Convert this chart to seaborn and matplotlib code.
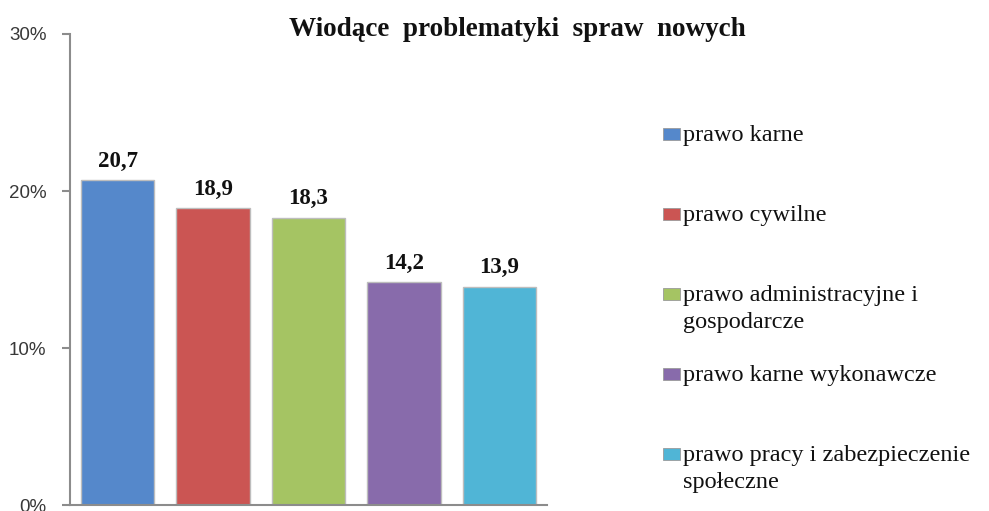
import matplotlib
matplotlib.use("Agg")
import matplotlib.pyplot as plt
import seaborn as sns
import pandas as pd
from matplotlib.patches import Rectangle

categories = ["prawo karne", "prawo cywilne", "prawo administracyjne i\ngospodarcze",
              "prawo karne wykonawcze", "prawo pracy i zabezpieczenie\nspołeczne"]
values = [20.7, 18.9, 18.3, 14.2, 13.9]
value_labels = ["20,7", "18,9", "18,3", "14,2", "13,9"]
colors = ["#5588CB", "#CB5553", "#A5C463", "#886BAB", "#50B5D6"]
yticks = [0, 10, 20, 30]
ytick_labels = ["0%", "10%", "20%", "30%"]
title = "Wiodące  problematyki  spraw  nowych"

sns.set_theme(style="white")
plt.rcParams["font.family"] = ["Liberation Serif", "DejaVu Serif"]

df = pd.DataFrame({"cat": categories, "val": values})

fig = plt.figure(figsize=(9.89, 5.11), dpi=100)
ax = fig.add_axes([70/989, 1-505/511, (547-70)/989, (505-34)/511])

sns.barplot(data=df, x="cat", y="val", hue="cat", palette=colors, legend=False,
            width=0.77, ax=ax, edgecolor="#BDBDBD", linewidth=1.0, saturation=1)

ax.set_ylim(0, 30)
ax.set_xlim(-0.5, len(categories) - 0.5)
ax.set_yticks(yticks)
ax.set_yticklabels(ytick_labels, family=["Liberation Sans", "DejaVu Sans"], fontsize=13.5, color="#383838")
ax.set_xticks([])
ax.set_xlabel("")
ax.set_ylabel("")
for s in ["top", "right"]:
    ax.spines[s].set_visible(False)
for s in ["left", "bottom"]:
    ax.spines[s].set_color("#8C8C8C")
    ax.spines[s].set_linewidth(1.5)
ax.tick_params(axis="y", which="major", left=True, length=6, width=1.5, color="#8C8C8C", pad=11)

for i, (v, lab) in enumerate(zip(values, value_labels)):
    ax.annotate(lab, (i, v), xytext=(0, 6), textcoords="offset points",
                ha="center", va="bottom", fontsize=16.5, fontweight="bold", color="#111111")

fig.text(517/989, 1-30/511, title, ha="center", va="center", fontsize=19.5, fontweight="bold", color="#111111")

# legend
for i, (lab, c) in enumerate(zip(categories, colors)):
    yc = 134 + 80 * i
    fig.patches.append(Rectangle((663/989, 1-(yc+6)/511), 17/989, 12/511, transform=fig.transFigure,
                                 facecolor=c, edgecolor="#9A9A9A", linewidth=0.6))
    fig.text(683/989, 1-(yc-9)/511, lab, ha="left", va="top", fontsize=17.5, color="#111111",
             linespacing=1.4)

fig.savefig("out.png", dpi=100)
